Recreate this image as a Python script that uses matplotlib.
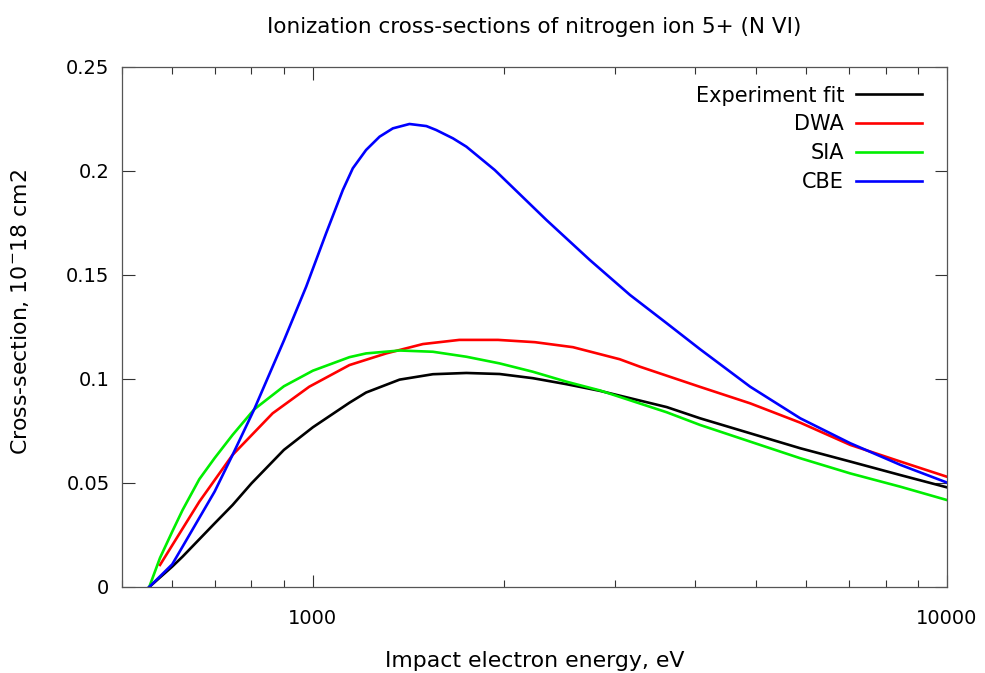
import matplotlib
matplotlib.use('Agg')
import matplotlib.pyplot as plt
from matplotlib.ticker import FixedLocator, FixedFormatter, NullFormatter, LogLocator

plt.rcParams['font.family'] = ['DejaVu Sans']

# energies (eV) and cross-sections (1e-18 cm2)
exp_e = [552, 572, 600, 623, 700, 747, 800, 900, 1000, 1142, 1213, 1370, 1546,
         1746, 1970, 2222, 2512, 2836, 3614, 4080, 4893, 5870, 7040, 8446, 10000]
exp_y = [0.0, 0.0042, 0.0098, 0.0146, 0.0306, 0.0394, 0.0498, 0.0659, 0.0768,
         0.0886, 0.0935, 0.0997, 0.1023, 0.1029, 0.1024, 0.1004, 0.0975,
         0.0943, 0.0865, 0.0811, 0.0739, 0.0667, 0.0603, 0.0538, 0.0479]

dwa_e = [574, 662, 747, 864, 987, 1142, 1305, 1491, 1702, 1959, 2240, 2571,
         3047, 3280, 4080, 4893, 5870, 7040, 8446, 10000]
dwa_y = [0.0106, 0.0410, 0.0635, 0.0835, 0.0963, 0.1067, 0.1123, 0.1168,
         0.1188, 0.1188, 0.1177, 0.1153, 0.1095, 0.1059, 0.0962, 0.0883,
         0.0790, 0.0683, 0.0603, 0.0530]

sia_e = [552, 574, 600, 623, 662, 700, 747, 808, 900, 1000, 1142, 1213, 1370,
         1546, 1746, 1970, 2222, 2512, 2836, 3614, 4080, 4893, 5870, 7040,
         8446, 10000]
sia_y = [0.0, 0.0140, 0.0266, 0.0370, 0.0518, 0.0620, 0.0731, 0.0854, 0.0965,
         0.1040, 0.1105, 0.1123, 0.1137, 0.1131, 0.1107, 0.1075, 0.1035,
         0.0987, 0.0945, 0.0840, 0.0779, 0.0699, 0.0619, 0.0546, 0.0482, 0.0418]

cbe_e = [552, 600, 623, 700, 747, 808, 901, 976, 1049, 1115, 1156, 1213, 1274,
         1337, 1420, 1510, 1565, 1663, 1746, 1935, 2336, 2734, 3163, 3614,
         4080, 4893, 5870, 7040, 8446, 10000]
cbe_y = [0.0, 0.0109, 0.0194, 0.0459, 0.0635, 0.0854, 0.1188, 0.1444, 0.1700,
         0.1909, 0.2013, 0.2101, 0.2165, 0.2205, 0.2226, 0.2216, 0.2197,
         0.2157, 0.2117, 0.2005, 0.1764, 0.1572, 0.1404, 0.1268, 0.1143,
         0.0963, 0.0811, 0.0691, 0.0587, 0.0502]

series = [
    ('Experiment fit', exp_e, exp_y, '#000000'),
    ('DWA', dwa_e, dwa_y, '#ff0000'),
    ('SIA', sia_e, sia_y, '#00ee00'),
    ('CBE', cbe_e, cbe_y, '#0000ff'),
]

fig = plt.figure(figsize=(9.85, 6.73), dpi=100)
ax = fig.add_axes([122/985, 86/673, 825/985, 520/673])

for name, e, y, c in series:
    ax.plot(e, y, color=c, lw=1.9, label=name, solid_joinstyle='round')

ax.set_xscale('log')
ax.set_xlim(500, 10000)
ax.set_ylim(0, 0.25)

ax.xaxis.set_major_locator(FixedLocator([1000, 10000]))
ax.xaxis.set_major_formatter(FixedFormatter(['1000', '10000']))
ax.xaxis.set_minor_locator(LogLocator(base=10, subs=range(2, 10)))
ax.xaxis.set_minor_formatter(NullFormatter())
ax.set_yticks([0, 0.05, 0.1, 0.15, 0.2, 0.25])
ax.set_yticklabels(['0', '0.05', '0.1', '0.15', '0.2', '0.25'])

ax.tick_params(which='both', direction='in', top=True, right=True,
               color='#333333', width=0.8, labelsize=14)
ax.tick_params(which='major', length=9)
ax.tick_params(which='minor', length=5)
ax.tick_params(axis='x', pad=16)
ax.tick_params(axis='y', pad=9)
for s in ax.spines.values():
    s.set_color('#555555')
    s.set_linewidth(0.9)

fig.text(534.5/985, 1 - 27/673, 'Ionization cross-sections of nitrogen ion 5+ (N VI)',
         ha='center', va='center', fontsize=15.5)
fig.text(534.5/985, 12/673, 'Impact electron energy, eV',
         ha='center', va='center', fontsize=15.8)
fig.text(20/985, 1 - 312/673, r'Cross-section, 10$^{-}$18 cm2',
         ha='center', va='center', rotation=90, fontsize=15.8)

ax.legend(loc='upper right', bbox_to_anchor=(0.97, 0.964), frameon=False,
          markerfirst=False, fontsize=15, handlelength=3.2, handletextpad=0.55,
          labelspacing=0.42, borderaxespad=0, borderpad=0)

fig.savefig('out.png', dpi=100)
